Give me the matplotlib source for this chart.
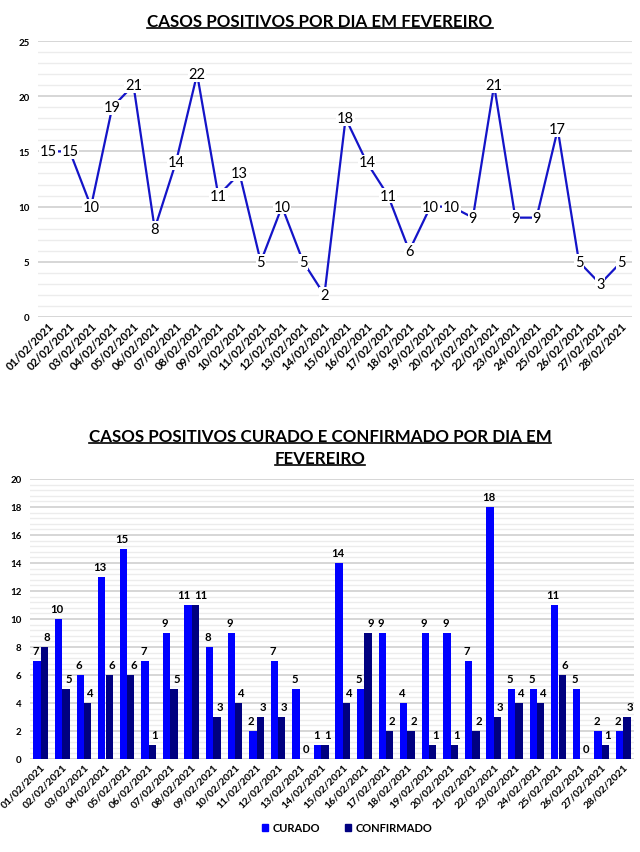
import matplotlib
matplotlib.use("Agg")
import matplotlib.pyplot as plt
import numpy as np
from matplotlib.lines import Line2D
from matplotlib.patches import Patch

plt.rcParams['font.family'] = ['Lato', 'DejaVu Sans']

dates = [f"{d:02d}/02/2021" for d in range(1, 29)]
positivos = [15, 15, 10, 19, 21, 8, 14, 22, 11, 13, 5, 10, 5, 2, 18, 14, 11, 6,
             10, 10, 9, 21, 9, 9, 17, 5, 3, 5]
curado = [7, 10, 6, 13, 15, 7, 9, 11, 8, 9, 2, 7, 5, 1, 14, 5, 9, 4, 9, 9, 7, 18,
          5, 5, 11, 5, 2, 2]
confirmado = [8, 5, 4, 6, 6, 1, 5, 11, 3, 4, 3, 3, 0, 1, 4, 9, 2, 2, 1, 1, 2, 3,
              4, 4, 6, 0, 1, 3]

W, H = 640, 853
fig = plt.figure(figsize=(W / 100, H / 100), dpi=100)


def ax_rect(l, t, r, b):
    return [l / W, 1 - b / H, (r - l) / W, (b - t) / H]


def style_grid(ax, ymax, major, minor, xsize):
    ax.set_ylim(0, ymax)
    ax.set_yticks(np.arange(0, ymax + 0.01, major))
    ax.set_yticks(np.arange(0, ymax + 0.01, minor), minor=True)
    ax.grid(True, which='major', axis='y', color='#d0d0d0', lw=1.2)
    ax.grid(True, which='minor', axis='y', color='#ececec', lw=1.0)
    ax.set_axisbelow(True)
    for s in ax.spines.values():
        s.set_visible(False)
    ax.tick_params(axis='y', which='both', length=0, labelsize=7, pad=6)
    ax.tick_params(axis='x', length=0, labelsize=xsize, pad=2)
    for lab in ax.get_yticklabels():
        lab.set_fontweight('bold')


# ---- Top chart ----
ax1 = fig.add_axes(ax_rect(38, 42, 632, 318))
x = np.arange(len(dates))
ax1.plot(x, positivos, color='#1414C8', lw=1.6, zorder=2)
for xi, v in zip(x, positivos):
    ax1.text(xi, v, str(v), ha='center', va='center', fontsize=10.5,
             color='black', zorder=3,
             bbox=dict(boxstyle='square,pad=0.05', fc='white', ec='none'))
ax1.set_xlim(-0.5, len(dates) - 0.5)
style_grid(ax1, 25, 5, 1, 8)
ax1.set_xticks(x)
ax1.set_xticklabels(dates, rotation=45, ha='right', rotation_mode='anchor',
                    fontweight='bold')

# ---- Bottom chart ----
ax2 = fig.add_axes(ax_rect(30, 480, 634, 760))
bw = 0.34
ax2.bar(x - bw / 2, curado, width=bw, color='#0000FF', label='CURADO', zorder=2)
ax2.bar(x + bw / 2, confirmado, width=bw, color='#000080', label='CONFIRMADO',
        zorder=2)
for xi, a, b in zip(x, curado, confirmado):
    wide = (abs(a - b) < 1.5) and (a >= 10 or b >= 10)
    ext = 0.14 if wide else 0.0
    ax2.text(xi - bw / 2 - 0.07 - ext, a + 0.35, str(a), ha='center',
             va='bottom', fontsize=8.2, fontweight='bold')
    ax2.text(xi + bw / 2 + 0.12 + ext, b + 0.35, str(b), ha='center',
             va='bottom', fontsize=8.2, fontweight='bold')
ax2.set_xlim(-0.5, len(dates) - 0.5)
style_grid(ax2, 20, 2, 0.4, 7.5)
ax2.set_xticks(x)
ax2.set_xticklabels(dates, rotation=45, ha='right', rotation_mode='anchor',
                    fontweight='bold')

handles = [Patch(color='#0000FF'), Patch(color='#000080')]
fig.legend(handles, ['CURADO', 'CONFIRMADO'], loc='center',
           bbox_to_anchor=(347 / W, 1 - 829 / H), ncol=2, frameon=False,
           prop={'size': 8, 'weight': 'bold'}, handlelength=0.6,
           handleheight=0.6, columnspacing=2.2, handletextpad=0.4)

titles = [
    (0.5, 1 - 22 / H, "CASOS POSITIVOS POR DIA EM FEVEREIRO"),
    (0.5, 1 - 437 / H, "CASOS POSITIVOS CURADO E CONFIRMADO POR DIA EM"),
    (0.5, 1 - 459 / H, "FEVEREIRO"),
]
tobjs = [fig.text(tx, ty, tt, ha='center', va='center', fontsize=12.2,
                  fontweight='bold') for tx, ty, tt in titles]

fig.canvas.draw()
r = fig.canvas.get_renderer()
for t in tobjs:
    bb = t.get_window_extent(r)
    x0, x1 = bb.x0 / W, bb.x1 / W
    yb = (bb.y0 + 1.5) / H
    fig.add_artist(Line2D([x0, x1], [yb, yb], transform=fig.transFigure,
                          color='black', lw=1.2))

fig.savefig('out.png', dpi=100)
